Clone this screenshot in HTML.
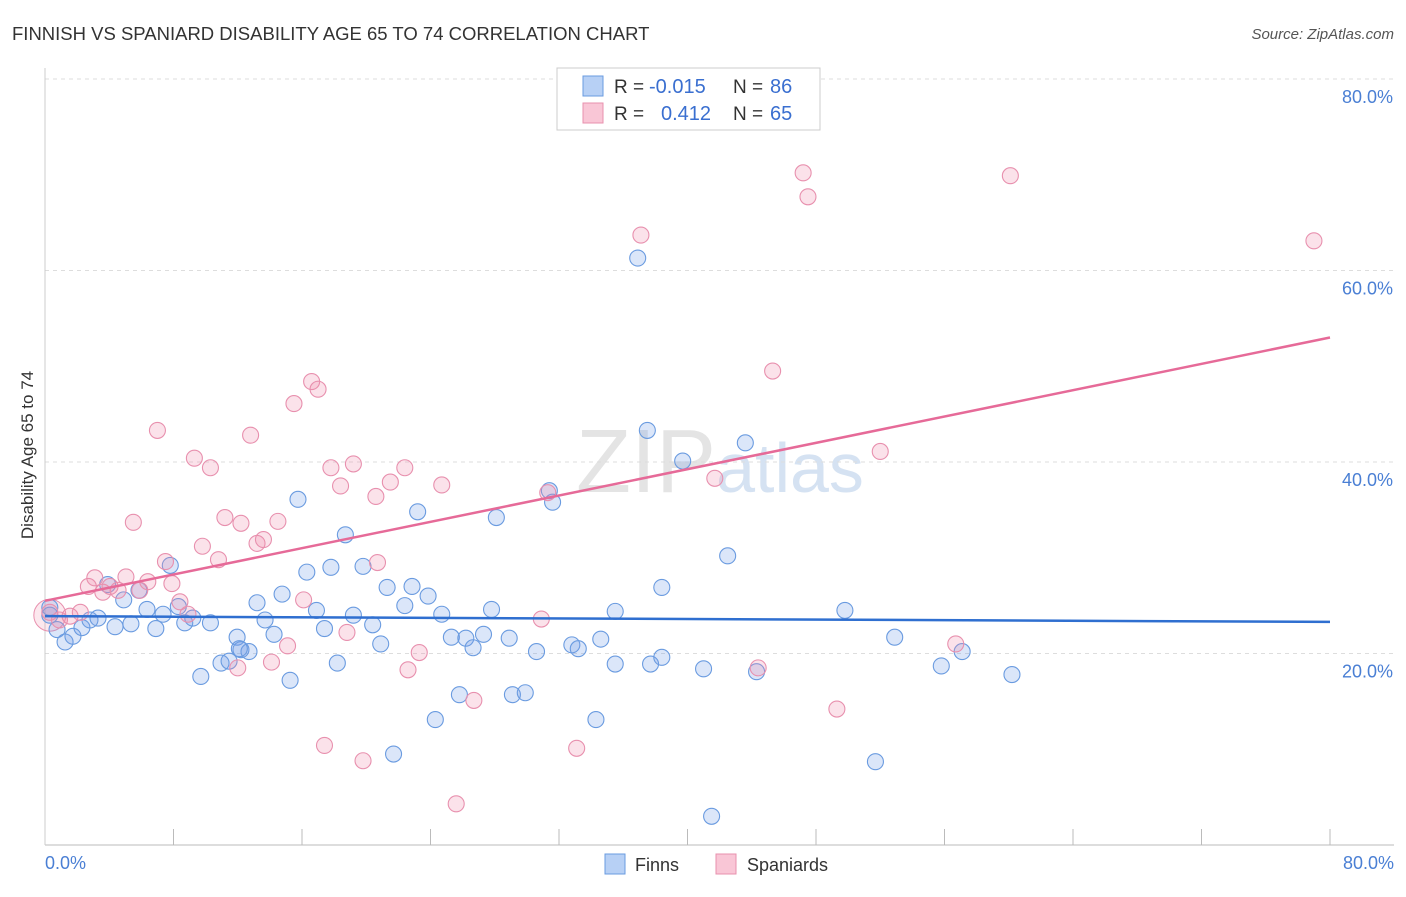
<!DOCTYPE html>
<html><head><meta charset="utf-8">
<style>
body{margin:0;background:#fff;font-family:"Liberation Sans",sans-serif;}
svg text{font-family:"Liberation Sans",sans-serif;}
</style></head>
<body>
<svg id="chart" width="1406" height="892" xmlns="http://www.w3.org/2000/svg">
<text x="12" y="40" font-size="18.5" fill="#333">FINNISH VS SPANIARD DISABILITY AGE 65 TO 74 CORRELATION CHART</text>
<text x="1394" y="39" font-size="15" fill="#555" text-anchor="end" font-style="italic">Source: ZipAtlas.com</text>
<text x="720" y="492" font-size="90" fill="#e4e4e4" text-anchor="middle" font-family="Liberation Serif">ZIP<tspan fill="#d5e2f2" font-family="Liberation Sans" font-size="70">atlas</tspan></text>
<g id="grid"></g>
<g id="axes"></g>
<g id="marks"></g>
<text transform="translate(33,455) rotate(-90)" font-size="17" fill="#333" text-anchor="middle">Disability Age 65 to 74</text>
<g>
<rect x="557" y="68" width="263" height="62" fill="#fff" stroke="#ccc"/>
<rect x="583" y="76" width="20" height="20" fill="#b7d0f5" stroke="#6a9be0"/>
<rect x="583" y="103" width="20" height="20" fill="#f9c6d6" stroke="#e890ae"/>
<text x="614" y="93" font-size="19" fill="#333">R =</text>
<text x="649" y="93" font-size="20" fill="#3a6fd0">-0.015</text>
<text x="733" y="93" font-size="19" fill="#333">N =</text>
<text x="770" y="93" font-size="20" fill="#3a6fd0">86</text>
<text x="614" y="120" font-size="19" fill="#333">R =</text>
<text x="661" y="120" font-size="20" fill="#3a6fd0">0.412</text>
<text x="733" y="120" font-size="19" fill="#333">N =</text>
<text x="770" y="120" font-size="20" fill="#3a6fd0">65</text>
</g>
<g>
<rect x="605" y="854" width="20" height="20" fill="#b7d0f5" stroke="#6a9be0"/>
<text x="635" y="871" font-size="18" fill="#333">Finns</text>
<rect x="716" y="854" width="20" height="20" fill="#f9c6d6" stroke="#e890ae"/>
<text x="747" y="871" font-size="18" fill="#333">Spaniards</text>
</g>
</svg>
<script>
const yTicks=[20,40,60,80];
const yTickLabels=["20.0%","40.0%","60.0%","80.0%"];
const finnsX=[0.3,0.75,1.25,1.74,2.3,2.8,3.3,3.9,4.36,4.9,5.35,5.85,6.35,6.9,7.35,7.8,8.3,8.7,9.2,9.7,10.3,10.96,11.46,11.96,12.2,12.7,13.2,13.7,14.26,14.76,15.26,15.75,16.3,16.9,17.4,17.8,18.2,18.7,19.2,19.8,20.4,20.9,21.3,21.7,22.4,22.85,23.2,23.85,24.3,24.7,25.3,25.8,26.2,26.65,27.3,27.8,28.1,28.9,29.1,29.9,30.6,31.4,31.6,32.8,33.2,34.3,34.6,35.5,35.5,36.9,37.5,37.7,38.4,38.4,39.7,41.0,41.5,42.5,43.6,44.3,49.8,51.7,52.9,55.8,57.1,60.2,12.1,0.3];
const finnsY=[24.0,22.5,21.2,21.8,22.7,23.5,23.7,27.2,22.8,25.6,23.1,26.6,24.6,22.6,24.1,29.2,24.9,23.2,23.7,17.6,23.2,19.0,19.2,21.7,20.4,20.2,25.3,23.5,22.0,26.2,17.2,36.1,28.5,24.5,22.6,29.0,19.0,32.4,24.0,29.1,23.0,21.0,26.9,9.5,25.0,27.0,34.8,26.0,13.1,24.1,21.7,15.7,21.6,20.6,22.0,24.6,34.2,21.6,15.7,15.9,20.2,37.0,35.8,20.9,20.5,13.1,21.5,24.4,18.9,61.3,43.3,18.9,19.6,26.9,40.1,18.4,3.0,30.2,42.0,18.1,24.5,8.7,21.7,18.7,20.2,17.8,20.5,24.8];
const spanX=[0.3,0.9,1.56,2.2,2.7,3.1,3.6,4.05,4.55,5.04,5.5,5.9,6.4,7.0,7.5,7.9,8.4,8.9,9.3,9.8,10.3,10.8,11.2,12.0,12.2,12.8,13.2,13.6,14.1,14.5,15.1,15.5,16.1,16.6,17.0,17.4,17.8,18.4,18.8,19.2,19.8,20.6,20.7,21.5,22.4,22.6,23.3,24.7,25.6,26.7,30.9,31.3,33.1,37.1,41.7,44.4,45.3,47.2,47.5,49.3,52.0,56.7,60.1,79.0];
const spanY=[24.3,23.5,23.9,24.3,27.0,27.9,26.4,27.0,26.6,28.0,33.7,26.6,27.5,43.3,29.6,27.3,25.4,24.1,40.4,31.2,39.4,29.8,34.2,18.5,33.6,42.8,31.5,31.9,19.1,33.8,20.8,46.1,25.6,48.4,47.6,10.4,39.4,37.5,22.2,39.8,8.8,36.4,29.5,37.9,39.4,18.3,20.1,37.6,4.3,15.1,23.6,36.8,10.1,63.7,38.3,18.5,49.5,70.2,67.7,14.2,41.1,21.0,69.9,63.1];
const finnsTrend=[23.9,23.3];
const spanTrend=[25.5,53.0];
const NS="http://www.w3.org/2000/svg";
const X=v=>45+v*(1330-45)/80;
const Y=v=>845-v*(845-79)/80;
function mk(tag,attrs,parent){const e=document.createElementNS(NS,tag);for(const k in attrs)e.setAttribute(k,attrs[k]);parent.appendChild(e);return e;}
const grid=document.getElementById('grid'),axes=document.getElementById('axes'),marks=document.getElementById('marks');
yTicks.forEach((t,i)=>{
  const l=mk('line',{x1:45,x2:1394,y1:Y(t),y2:Y(t),stroke:'#ddd','stroke-dasharray':'4,4'},grid);
  
  
  const tx=mk('text',{x:1393,y:Y(t)+24,'font-size':18,fill:'#4a7fd4','text-anchor':'end'},axes);
  tx.textContent=yTickLabels[i];
  
  
});
const ax=mk('line',{x1:45,x2:1394,y1:845,y2:845,stroke:'#bbb'},axes);


const ay=mk('line',{x1:45,x2:45,y1:68,y2:845,stroke:'#ccc'},axes);


for(let i=1;i<=10;i++){const t=mk('line',{x1:X(i*8),x2:X(i*8),y1:829,y2:845,stroke:'#bbb'},axes);

}
const xl0=mk('text',{x:45,y:869,'font-size':18,fill:'#4a7fd4'},axes);xl0.textContent='0.0%';


const xl1=mk('text',{x:1394,y:869,'font-size':18,fill:'#4a7fd4','text-anchor':'end'},axes);xl1.textContent='80.0%';


const big=mk('circle',{cx:X(0.3),cy:Y(24),r:16,fill:'rgba(240,140,170,0.2)',stroke:'#e890ae'},marks);


finnsX.forEach((x,i)=>{const c=mk('circle',{cx:X(x),cy:Y(finnsY[i]),r:8,fill:'rgba(110,155,230,0.25)',stroke:'#6a9be0','stroke-width':1.1},marks);

});
spanX.forEach((x,i)=>{const c=mk('circle',{cx:X(x),cy:Y(spanY[i]),r:8,fill:'rgba(240,140,170,0.25)',stroke:'#e890ae','stroke-width':1.1},marks);

});
const tf=mk('line',{x1:X(0),x2:X(80),y1:Y(finnsTrend[0]),y2:Y(finnsTrend[1]),stroke:'#2f6fd0','stroke-width':2.5},marks);


const ts=mk('line',{x1:X(0),x2:X(80),y1:Y(spanTrend[0]),y2:Y(spanTrend[1]),stroke:'#e66a98','stroke-width':2.5},marks);


</script>
</body></html>
